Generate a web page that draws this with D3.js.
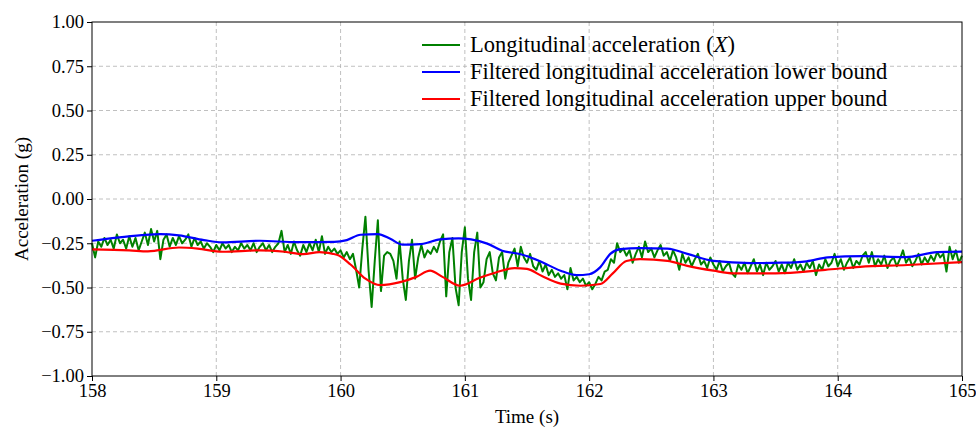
<!DOCTYPE html>
<html><head><meta charset="utf-8">
<script src="https://cdn.jsdelivr.net/npm/d3@7"></script>
<style>body{margin:0;background:#fff;} svg text{font-family:"Liberation Serif","Times New Roman",Times,"DejaVu Serif",serif !important;}</style>
</head><body><svg id="c" width="976" height="429"></svg>
<script>
// ---- data ----
const xTicks = [158,159,160,161,162,163,164,165];
const yTicks = [1.00,0.75,0.50,0.25,0.00,-0.25,-0.50,-0.75,-1.00];
const seriesNames = ["Longitudinal acceleration (X)","Filtered longitudinal acceleration lower bound","Filtered longitudinal acceleration upper bound"];
const greenStart = 158, greenStep = 0.025;
const greenValues = [
-0.25,-0.33,-0.24,-0.27,-0.22,-0.26,-0.23,-0.28,-0.20,-0.25,
-0.23,-0.28,-0.21,-0.27,-0.22,-0.29,-0.24,-0.19,-0.26,-0.17,
-0.24,-0.18,-0.34,-0.23,-0.20,-0.27,-0.22,-0.26,-0.21,-0.25,
-0.23,-0.20,-0.27,-0.22,-0.26,-0.24,-0.28,-0.25,-0.27,-0.30,
-0.26,-0.29,-0.25,-0.28,-0.26,-0.30,-0.27,-0.29,-0.25,-0.28,
-0.26,-0.29,-0.25,-0.30,-0.27,-0.25,-0.29,-0.26,-0.30,-0.27,
-0.25,-0.18,-0.30,-0.26,-0.31,-0.24,-0.29,-0.32,-0.26,-0.30,
-0.25,-0.29,-0.23,-0.30,-0.21,-0.31,-0.27,-0.30,-0.28,-0.31,
-0.29,-0.33,-0.30,-0.34,-0.31,-0.40,-0.50,-0.28,-0.10,-0.40,
-0.61,-0.35,-0.12,-0.52,-0.32,-0.30,-0.31,-0.35,-0.45,-0.24,
-0.45,-0.57,-0.35,-0.23,-0.45,-0.33,-0.26,-0.33,-0.29,-0.31,
-0.27,-0.30,-0.24,-0.20,-0.55,-0.30,-0.22,-0.50,-0.60,-0.30,
-0.16,-0.45,-0.57,-0.30,-0.19,-0.50,-0.47,-0.34,-0.30,-0.42,
-0.46,-0.33,-0.30,-0.45,-0.36,-0.32,-0.28,-0.38,-0.27,-0.33,
-0.36,-0.31,-0.38,-0.40,-0.35,-0.41,-0.37,-0.43,-0.40,-0.44,
-0.42,-0.45,-0.43,-0.51,-0.39,-0.46,-0.44,-0.47,-0.45,-0.49,
-0.47,-0.51,-0.48,-0.44,-0.46,-0.41,-0.40,-0.34,-0.36,-0.25,
-0.30,-0.28,-0.32,-0.29,-0.36,-0.31,-0.27,-0.33,-0.24,-0.30,
-0.28,-0.33,-0.29,-0.26,-0.32,-0.30,-0.35,-0.29,-0.33,-0.40,
-0.31,-0.36,-0.33,-0.38,-0.34,-0.31,-0.37,-0.35,-0.39,-0.33,
-0.37,-0.40,-0.35,-0.41,-0.38,-0.36,-0.42,-0.44,-0.37,-0.40,
-0.36,-0.42,-0.38,-0.34,-0.41,-0.37,-0.43,-0.36,-0.40,-0.38,
-0.35,-0.41,-0.37,-0.42,-0.36,-0.39,-0.34,-0.40,-0.37,-0.41,
-0.36,-0.39,-0.35,-0.43,-0.37,-0.40,-0.34,-0.38,-0.36,-0.31,
-0.38,-0.34,-0.40,-0.36,-0.33,-0.39,-0.35,-0.37,-0.32,-0.30,
-0.36,-0.30,-0.38,-0.34,-0.37,-0.32,-0.39,-0.35,-0.33,-0.38,
-0.34,-0.29,-0.36,-0.33,-0.38,-0.35,-0.31,-0.37,-0.33,-0.36,
-0.32,-0.35,-0.30,-0.33,-0.31,-0.41,-0.27,-0.34,-0.29,-0.36,
-0.32];
const blueTimes = [158.0,158.2,158.4,158.55,158.7,158.9,159.05,159.35,159.65,159.95,160.05,160.16,160.3,160.4,160.5,160.64,160.8,160.95,161.05,161.18,161.3,161.45,161.6,161.77,161.9,162.0,162.09,162.17,162.25,162.41,162.63,162.79,163.0,163.3,163.55,163.75,163.92,164.2,164.55,164.8,165.0];
const blueValues = [-0.236,-0.218,-0.204,-0.198,-0.205,-0.232,-0.245,-0.236,-0.244,-0.242,-0.232,-0.202,-0.198,-0.225,-0.258,-0.255,-0.228,-0.222,-0.228,-0.252,-0.292,-0.312,-0.35,-0.405,-0.43,-0.425,-0.385,-0.31,-0.283,-0.277,-0.28,-0.31,-0.35,-0.362,-0.36,-0.352,-0.33,-0.323,-0.328,-0.30,-0.297];
const redTimes = [158.0,158.3,158.45,158.7,158.85,159.05,159.35,159.55,159.7,159.83,159.97,160.08,160.2,160.32,160.48,160.61,160.72,160.82,160.96,161.12,161.25,161.4,161.5,161.62,161.77,161.93,162.09,162.19,162.3,162.41,162.63,162.79,163.0,163.16,163.5,163.9,164.18,164.56,165.0];
const redValues = [-0.285,-0.29,-0.296,-0.274,-0.28,-0.298,-0.29,-0.298,-0.312,-0.30,-0.315,-0.37,-0.45,-0.487,-0.47,-0.44,-0.405,-0.44,-0.49,-0.445,-0.415,-0.39,-0.395,-0.435,-0.478,-0.49,-0.48,-0.42,-0.35,-0.34,-0.35,-0.378,-0.405,-0.42,-0.42,-0.40,-0.383,-0.373,-0.357];

// ---- chart ----
const W = 976, H = 429;
const m = {left: 92, right: 14, top: 22, bottom: 53};
const svg = d3.select("#c");
const x = d3.scaleLinear().domain([158,165]).range([m.left, W - m.right]);
const y = d3.scaleLinear().domain([-1,1]).range([H - m.bottom, m.top]);
const FONT = "Liberation Serif, Times New Roman, Times, DejaVu Serif, serif";

// grid
const grid = svg.append("g");
grid.selectAll("line.gx").data(xTicks.slice(1,-1)).enter().append("line")
  .attr("x1", d => x(d)).attr("x2", d => x(d)).attr("y1", m.top).attr("y2", H - m.bottom)
  .attr("stroke", "#b0b0b0").attr("stroke-width", 0.8).attr("stroke-dasharray", "4,3");
grid.selectAll("line.gy").data(yTicks.slice(1,-1)).enter().append("line")
  .attr("y1", d => y(d)).attr("y2", d => y(d)).attr("x1", m.left).attr("x2", W - m.right)
  .attr("stroke", "#b0b0b0").attr("stroke-width", 0.8).attr("stroke-dasharray", "4,3");

const greenData = greenValues.map((v, i) => [greenStart + i * greenStep, v]);
const blueData = blueTimes.map((t, i) => [t, blueValues[i]]);
const redData = redTimes.map((t, i) => [t, redValues[i]]);

const lineStraight = d3.line().x(d => x(d[0])).y(d => y(d[1]));
const lineSmooth = d3.line().x(d => x(d[0])).y(d => y(d[1])).curve(d3.curveMonotoneX);

svg.append("path").datum(greenData).attr("d", lineStraight).attr("fill","none").attr("stroke","#008000").attr("stroke-width",2).attr("stroke-linejoin","round");
svg.append("path").datum(blueData).attr("d", lineSmooth).attr("fill","none").attr("stroke","#0000ff").attr("stroke-width",2.2);
svg.append("path").datum(redData).attr("d", lineSmooth).attr("fill","none").attr("stroke","#ff0000").attr("stroke-width",2.2);

// axes
const fs = 18.5;
const xAxis = d3.axisBottom(x).tickValues(xTicks).tickFormat(d3.format("d")).tickSizeOuter(0).tickSize(5).tickPadding(3);
const yAxis = d3.axisLeft(y).tickValues(yTicks).tickFormat(d => d3.format(".2f")(d).replace("-", "\u2212")).tickSizeOuter(0).tickSize(5).tickPadding(3);
const gx = svg.append("g").attr("transform", `translate(0,${H - m.bottom})`).call(xAxis);
const gy = svg.append("g").attr("transform", `translate(${m.left},0)`).call(yAxis);
[gx, gy].forEach(g => {
  g.attr("font-family", FONT).attr("font-size", fs);
  g.selectAll("text").attr("font-size", fs).attr("fill", "#000").attr("font-family", FONT);
  g.selectAll("line").attr("stroke", "#000").attr("stroke-width", 1);
  g.select(".domain").remove();
});
// frame
svg.append("rect").attr("x", m.left).attr("y", m.top).attr("width", W - m.left - m.right).attr("height", H - m.top - m.bottom)
  .attr("fill", "none").attr("stroke", "#000").attr("stroke-width", 1);

svg.append("text").attr("x", (m.left + W - m.right) / 2).attr("y", H - 6).attr("text-anchor", "middle")
  .attr("font-family", FONT).attr("font-size", 19).text("Time (s)");
svg.append("text").attr("transform", `translate(28,${(m.top + H - m.bottom) / 2}) rotate(-90)`).attr("text-anchor", "middle")
  .attr("font-family", FONT).attr("font-size", 19).text("Acceleration (g)");

// legend
const colors = ["#008000", "#0000ff", "#ff0000"];
const leg = svg.append("g").attr("transform", "translate(422,45)");
seriesNames.forEach((name, i) => {
  const gy0 = i * 27;
  leg.append("line").attr("x1", 0).attr("x2", 38).attr("y1", gy0).attr("y2", gy0).attr("stroke", colors[i]).attr("stroke-width", 2.2);
  const t = leg.append("text").attr("x", 48).attr("y", gy0 + 7).attr("font-family", FONT).attr("font-size", 22.5);
  if (i === 0) {
    t.append("tspan").text("Longitudinal acceleration (");
    t.append("tspan").attr("font-style", "italic").text("X");
    t.append("tspan").text(")");
  } else t.text(name);
});
</script></body></html>
